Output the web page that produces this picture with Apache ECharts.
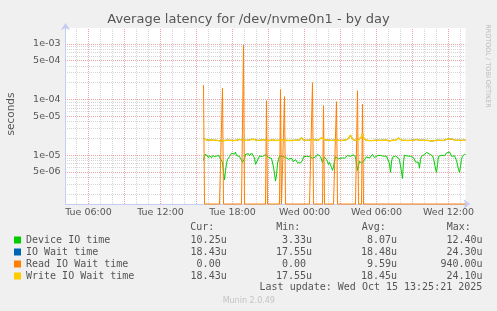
<!DOCTYPE html>
<html><head><meta charset="utf-8">
<script src="https://cdn.jsdelivr.net/npm/echarts@6/dist/echarts.min.js"></script>
<style>html,body{margin:0;padding:0;background:#f0f0f0}#c{width:497px;height:311px}</style>
</head><body><div id="c"></div><script>
// ---- data ----
const seriesNames = ['Device IO time', 'IO Wait time', 'Read IO Wait time', 'Write IO Wait time'];
const seriesColors = ['#00cc00', '#0066b3', '#ff8000', '#ffcc00'];
// samples every 5 minutes, first sample Tue 15:35 (minutes since Tue 00:00), values in microseconds
const firstSampleMinute = 15 * 60 + 35;
const sampleStepMinutes = 5;
const deviceIO = [
  8.0, 9.5, 10.4, 11.2, 9.6, 9.0, 9.8, 9.3, 8.9, 9.7,
  9.2, 10.1, 9.4, 8.8, 9.6, 9.9, 9.1, 9.4, 8.6, 7.4,
  5.0, 3.6, 5.2, 7.1, 8.3, 8.9, 9.4, 10.2, 10.8, 11.4,
  11.0, 10.4, 11.3, 9.8, 9.4, 10.1, 9.5, 8.7, 9.2, 7.4,
  7.0, 8.6, 10.3, 10.9, 10.2, 10.6, 9.7, 10.1, 10.9, 11.6,
  10.4, 8.9, 6.8, 6.4, 7.0, 8.8, 9.6, 9.2, 9.9, 9.4,
  10.0, 9.6, 10.2, 9.5, 9.8, 9.1, 8.9, 9.3, 8.7, 8.4,
  6.1, 4.6, 3.4, 4.4, 6.9, 8.4, 9.6, 9.2, 9.8, 9.4,
  8.9, 9.7, 9.1, 8.6, 9.0, 8.4, 8.7, 8.2, 8.8, 8.5,
  7.6, 7.2, 8.3, 7.9, 7.3, 7.6, 6.9, 7.2, 6.8, 8.0,
  9.3, 9.7, 9.0, 9.5, 9.2, 8.9, 9.4, 9.0, 9.6, 8.8,
  9.1, 9.5, 9.2, 9.8, 10.3, 10.6, 9.9, 9.4, 8.7, 7.3,
  8.4, 9.2, 8.8, 8.3, 7.6, 6.8, 7.4, 6.9, 6.0, 5.3,
  6.2, 7.9, 9.3, 8.7, 9.1, 8.5, 9.0, 8.6, 8.9, 8.7,
  9.1, 8.8, 8.5, 9.2, 9.8, 9.4, 9.6, 9.5, 9.0, 9.7,
  10.1, 10.3, 9.2, 7.0, 5.3, 6.4, 7.8, 7.5, 7.1, 7.0,
  7.4, 8.2, 8.6, 9.3, 8.9, 9.2, 8.8, 8.9, 9.5, 10.3,
  9.7, 9.0, 8.6, 9.3, 9.8, 10.1, 10.3, 9.9, 9.4, 9.2,
  9.5, 9.1, 9.9, 9.6, 9.8, 9.5, 7.0, 4.9, 7.5, 9.1,
  9.5, 9.2, 9.6, 9.3, 9.0, 8.8, 8.1, 7.5, 5.0, 3.8,
  7.6, 9.9, 9.5, 9.8, 9.6, 9.5, 9.1, 9.5, 9.2, 8.8,
  9.0, 8.5, 7.5, 7.2, 7.0, 7.4, 5.8, 8.4, 9.5, 10.3,
  9.8, 10.2, 11.0, 11.2, 10.8, 11.1, 10.4, 9.9, 10.2, 9.7,
  8.6, 7.2, 5.6, 4.9, 6.8, 9.5, 9.8, 10.3, 9.9, 9.6,
  10.1, 9.7, 10.3, 10.9, 11.6, 11.0, 11.4, 10.6, 9.5, 9.9,
  9.4, 9.7, 9.5, 8.0, 6.6, 5.5, 4.9, 6.3, 8.4, 9.5,
  9.9, 10.4, 10.25
];
const ioWait = [
  19.8, 19.2, 18.9, 18.7, 18.5, 18.4, 18.6, 18.4, 18.3, 18.5,
  18.4, 18.3, 18.5, 18.4, 18.3, 18.2, 18.1, 17.9, 17.8, 18.2,
  18.2, 18.3, 18.4, 18.3, 18.5, 18.4, 18.3, 18.4, 18.5, 18.4,
  18.3, 18.4, 18.3, 18.4, 18.6, 18.8, 19.1, 19.3, 18.9, 18.6,
  19.2, 18.5, 18.4, 18.3, 18.4, 18.5, 18.6, 18.9, 19.2, 18.9,
  19.4, 19.0, 18.7, 18.5, 18.4, 18.3, 18.4, 18.5, 18.4, 18.3,
  18.9, 18.6, 18.4, 18.4, 18.5, 18.4, 18.3, 18.4, 18.6, 18.8,
  18.5, 18.4, 18.3, 18.2, 18.3, 18.4, 18.5, 18.8, 18.4, 18.3,
  18.4, 18.6, 18.7, 18.4, 18.3, 18.2, 18.4, 18.3, 18.4, 18.5,
  18.4, 18.3, 18.4, 18.5, 18.4, 18.3, 18.6, 19.4, 20.6, 19.2,
  18.6, 18.4, 18.5, 18.4, 18.3, 18.4, 18.7, 19.0, 19.6, 19.1,
  18.6, 19.3, 18.7, 18.4, 18.3, 18.4, 18.5, 18.7, 20.5, 21.3,
  19.7, 18.8, 18.5, 18.4, 18.6, 18.4, 18.3, 18.4, 18.6, 18.4,
  18.5, 18.9, 19.4, 18.8, 18.5, 18.4, 18.3, 18.4, 18.5, 18.4,
  18.3, 18.4, 18.6, 18.5, 19.0, 19.8, 21.2, 22.8, 21.0, 19.2,
  18.7, 18.5, 18.4, 18.6, 19.0, 18.7, 18.5, 19.4, 21.5, 24.3,
  20.3, 18.9, 18.6, 18.4, 18.5, 18.3, 18.2, 18.0, 18.2, 18.4,
  18.5, 18.4, 18.3, 18.4, 18.5, 18.4, 18.3, 18.4, 18.6, 18.4,
  18.5, 18.7, 18.9, 18.6, 18.1, 17.6, 17.9, 18.3, 18.4, 18.5,
  18.4, 18.3, 18.4, 18.6, 19.2, 20.2, 19.4, 18.8, 18.5, 18.4,
  18.3, 18.4, 18.5, 18.4, 18.3, 18.4, 18.5, 18.4, 18.3, 18.4,
  18.5, 18.6, 18.8, 19.1, 18.7, 18.5, 18.4, 18.3, 18.4, 18.5,
  18.4, 18.3, 18.4, 18.5, 18.4, 18.3, 18.2, 18.1, 17.9, 17.8,
  18.0, 18.2, 18.3, 18.4, 18.5, 18.4, 18.3, 18.4, 18.5, 18.4,
  18.3, 18.4, 18.6, 19.1, 20.1, 20.6, 19.4, 18.7, 18.9, 19.3,
  18.8, 18.5, 18.4, 18.3, 18.4, 18.5, 18.4, 18.3, 18.4, 18.5,
  18.4, 18.5, 18.43
];
const readWait = [
  180, 0, 0, 0, 0, 0, 0, 0, 0, 0,
  0, 0, 0, 0, 0, 0, 0, 0, 0, 160,
  0, 0, 0, 0, 0, 0, 0, 0, 0, 0,
  0, 0, 0, 0, 0, 0, 0, 0, 0, 0,
  940, 0, 0, 0, 0, 0, 0, 0, 0, 0,
  0, 0, 0, 0, 0, 0, 0, 0, 0, 0,
  0, 0, 0, 95, 0, 0, 0, 0, 0, 0,
  0, 0, 0, 0, 0, 0, 0, 150, 0, 0,
  0, 112, 0, 0, 0, 0, 0, 0, 0, 0,
  0, 0, 0, 0, 0, 0, 0, 0, 0, 0,
  0, 0, 0, 0, 0, 0, 0, 0, 0, 200,
  0, 0, 0, 0, 0, 0, 0, 0, 0, 0,
  77, 0, 0, 0, 0, 0, 0, 0, 0, 0,
  0, 0, 0, 91, 0, 0, 0, 0, 0, 0,
  0, 0, 0, 0, 0, 0, 0, 0, 0, 0,
  0, 0, 0, 0, 143, 0, 0, 0, 0, 82,
  0, 0, 0, 0, 0, 0, 0, 0, 0, 0,
  0, 0, 0, 0, 0, 0, 0, 0, 0, 0,
  0, 0, 0, 0, 0, 0, 0, 0, 0, 0,
  0, 0, 0, 0, 0, 0, 0, 0, 0, 0,
  0, 0, 0, 0, 0, 0, 0, 0, 0, 0,
  0, 0, 0, 0, 0, 0, 0, 0, 0, 0,
  0, 0, 0, 0, 0, 0, 0, 0, 0, 0,
  0, 0, 0, 0, 0, 0, 0, 0, 0, 0,
  0, 0, 0, 0, 0, 0, 0, 0, 0, 0,
  0, 0, 0, 0, 0, 0, 0, 0, 0, 0,
  0, 0, 0
];
const writeWait = [
  19.6, 19.2, 18.9, 18.7, 18.5, 18.4, 18.6, 18.4, 18.3, 18.5,
  18.4, 18.3, 18.5, 18.4, 18.3, 18.2, 18.1, 17.9, 17.8, 18.0,
  18.2, 18.3, 18.4, 18.3, 18.5, 18.4, 18.3, 18.4, 18.5, 18.4,
  18.3, 18.4, 18.3, 18.4, 18.6, 18.8, 19.1, 19.3, 18.9, 18.6,
  18.8, 18.5, 18.4, 18.3, 18.4, 18.5, 18.6, 18.9, 19.2, 18.9,
  19.4, 19.0, 18.7, 18.5, 18.4, 18.3, 18.4, 18.5, 18.4, 18.3,
  18.9, 18.6, 18.4, 18.3, 18.5, 18.4, 18.3, 18.4, 18.6, 18.8,
  18.5, 18.4, 18.3, 18.2, 18.3, 18.4, 18.5, 18.6, 18.4, 18.3,
  18.4, 18.5, 18.7, 18.4, 18.3, 18.2, 18.4, 18.3, 18.4, 18.5,
  18.4, 18.3, 18.4, 18.5, 18.4, 18.3, 18.6, 19.4, 20.6, 19.2,
  18.6, 18.4, 18.5, 18.4, 18.3, 18.4, 18.7, 19.0, 19.6, 18.9,
  18.6, 19.3, 18.7, 18.4, 18.3, 18.4, 18.5, 18.7, 20.5, 21.3,
  19.6, 18.8, 18.5, 18.4, 18.6, 18.4, 18.3, 18.4, 18.6, 18.4,
  18.5, 18.9, 19.4, 18.7, 18.5, 18.4, 18.3, 18.4, 18.5, 18.4,
  18.3, 18.4, 18.6, 18.5, 19.0, 19.8, 21.2, 22.8, 21.0, 19.2,
  18.7, 18.5, 18.4, 18.6, 18.9, 18.7, 18.5, 19.4, 21.5, 24.1,
  20.3, 18.9, 18.6, 18.4, 18.5, 18.3, 18.2, 18.0, 18.2, 18.4,
  18.5, 18.4, 18.3, 18.4, 18.5, 18.4, 18.3, 18.4, 18.6, 18.4,
  18.5, 18.7, 18.9, 18.6, 18.1, 17.55, 17.9, 18.3, 18.4, 18.5,
  18.4, 18.3, 18.4, 18.6, 19.2, 20.2, 19.4, 18.8, 18.5, 18.4,
  18.3, 18.4, 18.5, 18.4, 18.3, 18.4, 18.5, 18.4, 18.3, 18.4,
  18.5, 18.6, 18.8, 19.1, 18.7, 18.5, 18.4, 18.3, 18.4, 18.5,
  18.4, 18.3, 18.4, 18.5, 18.4, 18.3, 18.2, 18.1, 17.9, 17.8,
  18.0, 18.2, 18.3, 18.4, 18.5, 18.4, 18.3, 18.4, 18.5, 18.4,
  18.3, 18.4, 18.6, 19.1, 20.1, 20.6, 19.4, 18.7, 18.9, 19.3,
  18.8, 18.5, 18.4, 18.3, 18.4, 18.5, 18.4, 18.3, 18.4, 18.5,
  18.4, 18.5, 18.43
];
// legend statistics (as printed)
const statCur = ['10.25u', '18.43u', '0.00 ', '18.43u'];
const statMin = ['3.33u', '17.55u', '0.00 ', '17.55u'];
const statAvg = ['8.07u', '18.48u', '9.59u', '18.45u'];
const statMax = ['12.40u', '24.30u', '940.00u', '24.10u'];
const statHeaders = ['Cur:', 'Min:', 'Avg:', 'Max:'];
// axis ranges / ticks
const xStartMinute = 4 * 60 + 5;          // Tue 04:05
const xEndMinute = 24 * 60 + 13 * 60 + 25; // Wed 13:25
const xTickLabels = { 360: 'Tue 06:00', 720: 'Tue 12:00', 1080: 'Tue 18:00', 1440: 'Wed 00:00', 1800: 'Wed 06:00', 2160: 'Wed 12:00' };
const yMin = 1.32e-6, yMax = 1.92e-3;
const yMajorTicks = [1e-3, 5e-4, 1e-4, 5e-5, 1e-5, 5e-6];
const yMajorLabels = ['1e-03', '5e-04', '1e-04', '5e-05', '1e-05', '5e-06'];
const yMinorTicks = [9e-4, 8e-4, 7e-4, 6e-4, 4e-4, 3e-4, 2e-4, 9e-5, 8e-5, 7e-5, 6e-5, 4e-5, 3e-5, 2e-5,
  9e-6, 8e-6, 7e-6, 6e-6, 4e-6, 3e-6, 2e-6];
const titleText = 'Average latency for /dev/nvme0n1 - by day';
const lastUpdate = 'Last update: Wed Oct 15 13:25:21 2025';

// ---- build ----
const seriesValues = [deviceIO, ioWait, readWait, writeWait];
function toPoints(arr) {
  return arr.map((v, i) => [firstSampleMinute + i * sampleStepMinutes, Math.max(v * 1e-6, yMin)]);
}
const MAJOR = '#eba6a6';
const MINOR = '#d6d6d6';
// horizontal grid on a hidden linear axis expressed in decades (same pixel mapping as the log axis)
const hLines = [];
yMajorTicks.forEach((v, k) => hLines.push({
  yAxis: Math.log10(v), lineStyle: { color: MAJOR, type: [1, 1], dashOffset: 0.5, width: 1 },
  label: { show: true, position: 'start', formatter: yMajorLabels[k], color: '#555', fontSize: 9.5, fontFamily: 'DejaVu Sans', distance: 5 }
}));
yMinorTicks.forEach(v => hLines.push({ yAxis: Math.log10(v), lineStyle: { color: MINOR, type: [1, 1], dashOffset: 0.5, width: 1 }, label: { show: false } }));
const vLines = [];
for (let m = 300; m < xEndMinute; m += 60) {
  vLines.push({ xAxis: m, lineStyle: { color: (m % 180 === 0) ? MAJOR : MINOR, type: [1, 1], width: 1 }, label: { show: false } });
}

const ff = '"DejaVu Sans"';
const mono = '"DejaVu Sans Mono"';
const chart = echarts.init(document.getElementById('c'), null, { renderer: 'canvas' });
const series = seriesNames.map((name, k) => ({
  name, type: 'line', yAxisIndex: 0, data: toPoints(seriesValues[k]), showSymbol: false, symbol: 'none',
  lineStyle: { color: seriesColors[k], width: k === 3 ? 1.4 : 1 }, itemStyle: { color: seriesColors[k] },
  clip: false, z: 3 + k, animation: false, silent: true
}));
series.push({
  name: 'grid', type: 'line', yAxisIndex: 1, data: [], silent: true, z: 1, animation: false,
  markLine: { silent: true, symbol: ['none', 'none'], z: 1, animation: false, data: hLines.concat(vLines) }
});

chart.setOption({
  animation: false,
  backgroundColor: '#f0f0f0',
  grid: { left: 65.5, right: 31.5, top: 28, bottom: 107, show: true, backgroundColor: '#ffffff', borderWidth: 0 },
  xAxis: {
    type: 'value', min: xStartMinute, max: xEndMinute, interval: 5,
    axisLine: { show: true, lineStyle: { color: '#c6cdf2', width: 1 }, symbol: ['none', 'arrow'], symbolSize: [7, 7], symbolOffset: [0, 5] },
    axisTick: { show: false }, splitLine: { show: false },
    axisLabel: { show: true, margin: 4, color: '#555', fontSize: 9.5, fontFamily: 'DejaVu Sans',
      formatter: v => xTickLabels[v] || '' }
  },
  yAxis: [{
    type: 'log', logBase: 10, min: yMin, max: yMax,
    axisLine: { show: true, lineStyle: { color: '#c6cdf2', width: 1 }, symbol: ['none', 'arrow'], symbolSize: [7, 7], symbolOffset: [0, 5] },
    axisTick: { show: false }, splitLine: { show: false }, axisLabel: { show: false }
  }, {
    type: 'value', show: false, min: Math.log10(yMin), max: Math.log10(yMax),
    axisLine: { show: false }, axisTick: { show: false }, splitLine: { show: false }, axisLabel: { show: false }
  }],
  legend: {
    orient: 'vertical', left: 14, top: 234, padding: 0, itemWidth: 7, itemHeight: 7, itemGap: 0, icon: 'rect',
    selectedMode: false, data: seriesNames.map((n, k) => ({ name: n, itemStyle: { color: seriesColors[k] } })),
    textStyle: {
      fontFamily: 'DejaVu Sans Mono', fontSize: 10, color: '#555', lineHeight: 12,
      rich: {
        n: { width: 140.7, fontFamily: 'DejaVu Sans Mono', fontSize: 10, color: '#555', lineHeight: 12 },
        c: { width: 60, align: 'right', fontFamily: 'DejaVu Sans Mono', fontSize: 10, color: '#555', lineHeight: 12 },
        m: { width: 85.3, align: 'right', fontFamily: 'DejaVu Sans Mono', fontSize: 10, color: '#555', lineHeight: 12 },
        a: { width: 85, align: 'right', fontFamily: 'DejaVu Sans Mono', fontSize: 10, color: '#555', lineHeight: 12 },
        x: { width: 85.6, align: 'right', fontFamily: 'DejaVu Sans Mono', fontSize: 10, color: '#555', lineHeight: 12 }
      }
    },
    formatter: name => {
      const k = seriesNames.indexOf(name);
      return '{n|' + name + '}{c|' + statCur[k] + '}{m|' + statMin[k] + '}{a|' + statAvg[k] + '}{x|' + statMax[k] + '}';
    }
  },
  graphic: [
    { type: 'text', x: 248.5, y: 19.5, silent: true, style: { text: titleText, font: '13px ' + ff, fill: '#555', align: 'center', verticalAlign: 'middle' } },
    { type: 'text', x: 11, y: 114, rotation: Math.PI / 2, silent: true, style: { text: 'seconds', font: '10.5px ' + ff, fill: '#555', align: 'center', verticalAlign: 'middle' } },
    { type: 'text', x: 488, y: 66, rotation: -Math.PI / 2, silent: true, style: { text: 'RRDTOOL / TOBI OETIKER', font: '6.5px ' + ff, fill: '#bbb', align: 'center', verticalAlign: 'middle' } },
    { type: 'text', x: 190.3, y: 227.7, silent: true, style: { text: statHeaders[0], font: '10px ' + mono, fill: '#555', verticalAlign: 'middle' } },
    { type: 'text', x: 276.3, y: 227.7, silent: true, style: { text: statHeaders[1], font: '10px ' + mono, fill: '#555', verticalAlign: 'middle' } },
    { type: 'text', x: 361.7, y: 227.7, silent: true, style: { text: statHeaders[2], font: '10px ' + mono, fill: '#555', verticalAlign: 'middle' } },
    { type: 'text', x: 446.7, y: 227.7, silent: true, style: { text: statHeaders[3], font: '10px ' + mono, fill: '#555', verticalAlign: 'middle' } },
    { type: 'text', x: 482.3, y: 287.7, silent: true, style: { text: lastUpdate, font: '10px ' + mono, fill: '#555', align: 'right', verticalAlign: 'middle' } },
    { type: 'text', x: 248.8, y: 300.5, silent: true, style: { text: 'Munin 2.0.49', font: '8px ' + ff, fill: '#c4c4c4', align: 'center', verticalAlign: 'middle' } }
  ],
  series
});
</script></body></html>
